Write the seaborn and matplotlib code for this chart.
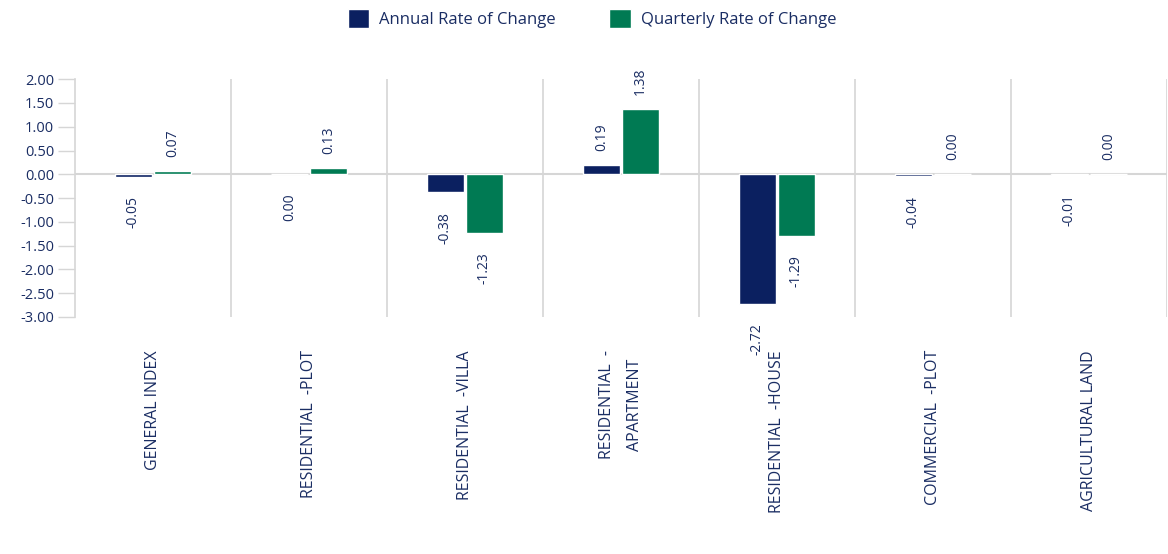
import pandas as pd
import matplotlib.pyplot as plt
import seaborn as sns

categories = ["GENERAL INDEX", "RESIDENTIAL  -PLOT", "RESIDENTIAL  -VILLA",
              "RESIDENTIAL  -\nAPARTMENT", "RESIDENTIAL  -HOUSE",
              "COMMERCIAL  -PLOT", "AGRICULTURAL LAND"]
annual = [-0.05, 0.00, -0.38, 0.19, -2.72, -0.04, -0.01]
quarterly = [0.07, 0.13, -1.23, 1.38, -1.29, 0.00, 0.00]
series_names = ["Annual Rate of Change", "Quarterly Rate of Change"]
yticks = [2.0, 1.5, 1.0, 0.5, 0.0, -0.5, -1.0, -1.5, -2.0, -2.5, -3.0]

navy = "#0b2060"
green = "#007a53"
txt = "#1a2d63"
grey = "#d6d6d6"

df = pd.DataFrame({
    "cat": categories * 2,
    "value": annual + quarterly,
    "series": [series_names[0]] * len(categories) + [series_names[1]] * len(categories),
})

sns.set_style("white")
plt.rcParams["font.family"] = ["Open Sans", "DejaVu Sans"]

fig = plt.figure(figsize=(11.68, 5.54), dpi=100)
ax = fig.add_axes([0.0642, 0.428, 0.9348, 0.429])

sns.barplot(data=df, x="cat", y="value", hue="series", order=categories,
            hue_order=series_names, palette=[navy, green], width=0.5,
            gap=0.05, saturation=1, ax=ax, legend=True)

ax.set_ylim(-3.0, 2.0)
ax.set_xlim(-0.5, len(categories) - 0.5)
ax.set_yticks(yticks)
ax.set_yticklabels([f"{t:.2f}" for t in yticks], fontsize=10.5, color=txt)
ax.tick_params(axis="y", length=12, width=1, color=grey, pad=3, left=True)
ax.tick_params(axis="x", length=0, pad=24)
ax.set_xticks(range(len(categories)))
ax.set_xticklabels(categories, rotation=90, fontsize=11.5, color=txt,
                   va="top", ha="center", linespacing=2.0)
ax.set_xlabel("")
ax.set_ylabel("")

for s in ["top", "right", "bottom"]:
    ax.spines[s].set_visible(False)
ax.spines["left"].set_color(grey)
ax.spines["left"].set_linewidth(1.2)

for i in range(1, len(categories) + 1):
    ax.axvline(i - 0.5, color=grey, lw=1.2, zorder=0)
ax.axhline(0, color=grey, lw=1.5, zorder=0)

# value labels
for cont, name, vals in zip(ax.containers, series_names, [annual, quarterly]):
    for bar, v in zip(cont, vals):
        x = bar.get_x() + bar.get_width() / 2
        below = v < 0 or (v == 0 and name == series_names[0])
        if below:
            ax.annotate(f"{v:.2f}", (x, v), xytext=(0, -14), textcoords="offset points",
                        rotation=90, ha="center", va="top", fontsize=10, color=txt,
                        annotation_clip=False)
        else:
            ax.annotate(f"{v:.2f}", (x, v), xytext=(0, 10), textcoords="offset points",
                        rotation=90, ha="center", va="bottom", fontsize=10, color=txt,
                        annotation_clip=False)

handles, labels = ax.get_legend_handles_labels()
ax.legend_.remove()
fig.legend(handles, labels, loc="upper center", bbox_to_anchor=(0.507, 1.01),
           ncol=2, frameon=False, fontsize=12, handlelength=1.3, handleheight=1.3,
           columnspacing=3.2, handletextpad=0.6, labelcolor=txt)

fig.savefig("out.png", dpi=100, facecolor="white")
